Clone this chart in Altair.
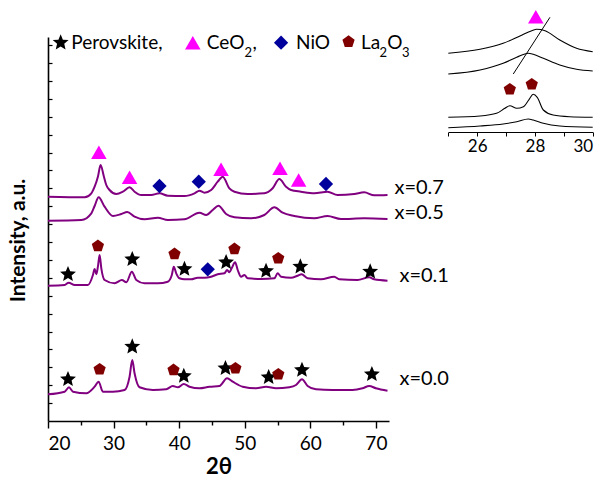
import altair as alt
import pandas as pd

# ---------------- main XRD patterns (2theta, intensity a.u.) ----------------
t07 = [20.0, 25.59, 26.61, 27.11, 27.61, 28.02, 28.53, 28.89, 29.39, 30.41, 31.42, 32.44, 33.20, 34.22,
       35.74, 37.0, 38.27, 40.81, 42.34, 43.10, 43.86, 44.88, 45.88, 46.64, 47.66, 48.43, 50.45, 52.99,
       54.26, 55.28, 56.30, 57.06, 58.58, 60.61, 62.63, 64.15, 66.70, 68.22, 69.74, 71.77]
i07 = [224.3, 223.7, 227.7, 234.3, 244.3, 256.0, 244.3, 236.0, 231.0, 227.0, 229.3, 233.7, 229.3, 226.0,
       226.0, 227.7, 225.3, 225.0, 227.7, 230.3, 228.3, 231.0, 239.3, 244.3, 232.7, 229.3, 227.0, 227.7,
       232.7, 242.0, 234.3, 231.0, 229.3, 227.7, 229.3, 226.0, 227.0, 228.7, 225.7, 226.0]

t05 = [20.0, 25.09, 26.61, 27.11, 27.72, 28.63, 29.90, 31.18, 32.09, 33.20, 34.72, 36.75, 38.27, 40.81,
       43.10, 44.12, 45.12, 45.99, 47.16, 48.43, 50.97, 52.99, 54.52, 55.78, 57.56, 60.61, 62.63, 64.67,
       68.22, 71.77]
i05 = [200.3, 201.0, 207.7, 215.0, 223.7, 214.3, 205.0, 207.0, 209.0, 204.3, 201.7, 203.3, 201.0, 201.7,
       208.3, 206.0, 211.0, 215.3, 207.0, 203.7, 202.7, 206.0, 213.7, 208.3, 205.0, 202.7, 205.0, 202.0,
       202.7, 202.0]

t01 = [20.0, 22.54, 23.15, 24.07, 26.09, 26.85, 27.11, 27.37, 27.61, 27.87, 28.13, 28.63, 30.16, 31.27,
       31.94, 32.79, 33.46, 34.72, 36.75, 38.27, 38.88, 39.18, 39.55, 40.05, 40.81, 41.83, 42.84, 43.86,
       44.88, 45.88, 46.90, 47.31, 47.66, 48.01, 48.53, 48.93, 49.45, 49.95, 50.45, 52.49, 54.52, 55.02,
       55.54, 57.06, 58.06, 58.67, 59.59, 61.63, 63.65, 64.41, 67.20, 68.98, 69.74, 71.77]
i01 = [135.3, 136.0, 138.3, 136.0, 136.0, 146.0, 152.0, 146.7, 154.3, 166.0, 152.7, 141.0, 137.7, 141.0,
       138.7, 149.3, 141.0, 137.7, 137.7, 139.3, 146.0, 154.3, 147.7, 142.7, 141.7, 141.7, 143.3, 143.3,
       144.3, 146.7, 147.7, 151.0, 148.7, 152.7, 158.7, 151.0, 144.3, 146.0, 142.7, 142.0, 142.7, 147.7,
       144.3, 143.3, 145.3, 146.7, 142.7, 141.7, 144.3, 141.7, 141.0, 143.7, 141.7, 140.3]

t00 = [20.0, 22.54, 23.20, 23.81, 25.85, 27.11, 27.72, 28.37, 29.90, 31.68, 32.44, 32.85, 33.20, 33.96,
       35.99, 38.03, 39.03, 39.79, 40.71, 41.57, 43.10, 44.62, 46.14, 47.31, 48.17, 49.69, 51.73, 53.25,
       54.78, 56.80, 57.82, 58.73, 59.59, 60.86, 63.39, 66.44, 67.96, 68.98, 70.0, 71.77]
i00 = [26.7, 29.3, 33.7, 29.3, 27.7, 34.3, 39.3, 29.3, 29.3, 31.0, 44.3, 61.0, 47.7, 33.7,
       31.0, 31.7, 35.0, 33.7, 37.0, 34.3, 32.7, 34.3, 35.0, 42.7, 39.3, 34.3, 32.7, 34.3,
       32.7, 33.7, 36.0, 41.7, 35.0, 31.7, 31.0, 31.0, 32.7, 35.0, 32.7, 30.3]

# ---------------- phase markers ----------------
phases = ["Perovskite", "CeO2", "NiO", "La2O3"]
mk_phase = (["CeO2"] * 5 + ["NiO"] * 3 +
            ["Perovskite"] * 7 + ["La2O3"] * 4 + ["NiO"] +
            ["Perovskite"] * 7 + ["La2O3"] * 4)
mk_theta = [27.76, 32.44, 46.39, 55.38, 58.22, 37.0, 42.99, 62.39,
            23.05, 32.85, 40.81, 47.16, 53.25, 58.48, 69.13, 27.61, 39.29, 48.43, 55.11, 44.36,
            23.05, 32.85, 40.71, 47.06, 53.65, 58.73, 69.39, 27.87, 39.14, 48.58, 55.12]
mk_int = [268.7, 243.7, 251.7, 252.7, 241.0, 235.0, 239.3, 237.0,
          146.7, 161.7, 152.0, 158.7, 150.0, 154.3, 149.3, 175.0, 167.0, 172.0, 162.7, 151.7,
          41.7, 74.3, 45.0, 52.7, 43.7, 51.0, 46.7, 51.7, 51.0, 52.7, 46.7]

# legend
lg_phase = ["Perovskite", "CeO2", "NiO", "La2O3"]
lg_theta = [21.93, 42.08, 55.54, 65.83]
lg_int = [378.3, 378.3, 378.3, 379.3]
lg_text = ["Perovskite,", "CeO", ",", "NiO", "La", "O"]
lg_text_theta = [23.56, 44.21, 51.2, 57.82, 67.72, 71.75]
lg_text_int = [378.3, 378.3, 378.3, 378.3, 378.3, 378.3]
lg_sub = ["2", "2", "3"]
lg_sub_theta = [49.95, 70.55, 74.0]
lg_sub_int = [368.3, 368.3, 368.3]

# sample labels
lab_text = ["x=0.7", "x=0.5", "x=0.1", "x=0.0"]
lab_theta = [72.83, 72.83, 73.59, 73.59]
lab_int = [232.7, 207.7, 145.0, 42.0]

# ---------------- inset (25-30 deg) ----------------
it07 = [25.0, 26.1, 26.9, 27.48, 27.89, 28.06, 28.35, 28.86, 29.44, 30.0]
ii07 = [367.7, 371.7, 377.7, 385.0, 390.3, 391.7, 390.3, 381.0, 372.7, 369.3]
it05 = [25.0, 26.1, 26.9, 27.37, 27.77, 27.94, 28.29, 28.86, 29.44, 30.0]
ii05 = [347.0, 351.0, 357.7, 363.7, 367.7, 366.7, 362.7, 356.0, 351.7, 350.0]
it01 = [25.0, 26.1, 26.67, 26.96, 27.13, 27.37, 27.6, 27.8, 27.94, 28.08, 28.29, 28.63, 29.2, 30.0]
ii01 = [303.7, 305.0, 307.7, 312.7, 315.3, 312.7, 314.3, 321.7, 326.7, 323.7, 311.0, 306.0, 304.3, 303.7]
it00 = [25.0, 26.1, 26.9, 27.37, 27.77, 27.94, 28.29, 28.86, 30.0]
ii00 = [293.3, 295.0, 297.0, 299.3, 302.0, 301.0, 297.7, 295.0, 293.7]
shift_theta = [27.25, 28.52]
shift_int = [347.0, 403.7]
imk_phase = ["CeO2", "La2O3", "La2O3"]
imk_theta = [28.03, 27.13, 27.89]
imk_int = [404.3, 331.7, 336.7]

# ---------------- build tables ----------------
def curves_df(items):
    rows = []
    for name, xs, ys in items:
        for a, b in zip(xs, ys):
            rows.append({"theta": a, "intensity": b, "sample": name})
    return pd.DataFrame(rows)

main_df = curves_df([("x=0.7", t07, i07), ("x=0.5", t05, i05), ("x=0.1", t01, i01), ("x=0.0", t00, i00)])
inset_df = curves_df([("x=0.7", it07, ii07), ("x=0.5", it05, ii05), ("x=0.1", it01, ii01), ("x=0.0", it00, ii00)])
mk_df = pd.DataFrame({"theta": mk_theta, "intensity": mk_int, "phase": mk_phase})
lg_df = pd.DataFrame({"theta": lg_theta, "intensity": lg_int, "phase": lg_phase})
lgt_df = pd.DataFrame({"theta": lg_text_theta, "intensity": lg_text_int, "t": lg_text})
lgs_df = pd.DataFrame({"theta": lg_sub_theta, "intensity": lg_sub_int, "t": lg_sub})
lab_df = pd.DataFrame({"theta": lab_theta, "intensity": lab_int, "t": lab_text})
shift_df = pd.DataFrame({"theta": shift_theta, "intensity": shift_int})
imk_df = pd.DataFrame({"theta": imk_theta, "intensity": imk_int, "phase": imk_phase})

W, H = 341, 384
FONT = "Lato"
STAR = ("M0,-1L0.265,-0.364L0.951,-0.309L0.428,0.139L0.588,0.809L0,0.45"
        "L-0.588,0.809L-0.428,0.139L-0.951,-0.309L-0.265,-0.364Z")
PENTAGON = "M0,-1L0.951,-0.309L0.588,0.809L-0.588,0.809L-0.951,-0.309Z"
DIAMOND = "M0,-1L1,0L0,1L-1,0Z"

x_main = alt.Scale(domain=[20, 72], nice=False, zero=False)
y_main = alt.Scale(domain=[0, 384], nice=False, zero=False)
x_inset = alt.Scale(domain=[25, 30], range=[400.3, 544.7], nice=False, zero=False)

shape_enc = alt.Shape("phase:N", scale=alt.Scale(domain=phases, range=[STAR, "triangle-up", DIAMOND, PENTAGON]), legend=None)
color_enc = alt.Color("phase:N", scale=alt.Scale(domain=phases, range=["#000000", "#FF00FF", "#00009C", "#800000"]), legend=None)
size_enc = alt.Size("phase:N", scale=alt.Scale(domain=phases, range=[280, 165, 580, 190]), legend=None)

x_axis_major = alt.Axis(values=[20, 30, 40, 50, 60, 70], title="2θ", tickSize=7, labelFontSize=19,
                        labelPadding=6, titleFontSize=22, titleFontWeight="bold", titlePadding=3,
                        domainWidth=1.6, tickWidth=1.4, grid=False, orient="bottom")
y_axis_main = alt.Axis(title="Intensity, a.u.", ticks=False, labels=False, domainWidth=1.6,
                       titleFontSize=21, titleFontWeight="bold", titlePadding=20, titleY=203,
                       grid=False, orient="left")

X = alt.X("theta:Q", scale=x_main, axis=x_axis_major)
Y = alt.Y("intensity:Q", scale=y_main, axis=y_axis_main)

curves = alt.Chart(main_df).mark_line(color="#800080", strokeWidth=2, interpolate="monotone").encode(
    x=X, y=Y, detail="sample:N")
markers = alt.Chart(mk_df).mark_point(filled=True, opacity=1).encode(
    x=X, y=Y, shape=shape_enc, color=color_enc, size=size_enc)
legend_pts = alt.Chart(lg_df).mark_point(filled=True, opacity=1).encode(
    x=X, y=Y, shape=shape_enc, color=color_enc, size=size_enc)
legend_txt = alt.Chart(lgt_df).mark_text(align="left", baseline="middle", font=FONT, fontSize=19, color="black").encode(
    x=X, y=Y, text="t:N")
legend_sub = alt.Chart(lgs_df).mark_text(align="left", baseline="middle", font=FONT, fontSize=13, color="black").encode(
    x=X, y=Y, text="t:N")
main = alt.layer(curves, markers, legend_pts, legend_txt, legend_sub)

minor_axis = alt.Axis(values=[25, 35, 45, 55, 65], labels=False, domain=False, tickSize=4, tickWidth=1.4,
                      title=None, grid=False, orient="bottom")
labels = alt.Chart(lab_df).mark_text(align="left", baseline="middle", font=FONT, fontSize=20, color="black").encode(
    x=alt.X("theta:Q", scale=x_main, axis=minor_axis),
    y=alt.Y("intensity:Q", scale=y_main, axis=None),
    text="t:N")

inset_x_axis = alt.Axis(values=[25, 26, 27, 28, 29, 30], labelExpr="datum.value % 2 == 0 ? datum.label : ''",
                        tickSize=4, labelFontSize=17, labelPadding=2, domainWidth=1, tickWidth=1,
                        title=None, grid=False, orient="bottom", offset=-289)
y_ticks_axis = alt.Axis(values=[round(17.9 * k, 1) for k in range(1, 22)], labels=False, domain=False,
                        tickSize=4, tickWidth=1.2, title=None, grid=False, orient="right", offset=-W)
IX = alt.X("theta:Q", scale=x_inset, axis=inset_x_axis)
IY = alt.Y("intensity:Q", scale=y_main, axis=y_ticks_axis)

inset_curves = alt.Chart(inset_df).mark_line(color="black", strokeWidth=1.1, interpolate="monotone").encode(
    x=IX, y=IY, detail="sample:N")
inset_shift = alt.Chart(shift_df).mark_line(color="black", strokeWidth=1).encode(x=IX, y=IY)
inset_markers = alt.Chart(imk_df).mark_point(filled=True, opacity=1).encode(
    x=IX, y=IY, shape=shape_enc, color=color_enc, size=size_enc)
inset = alt.layer(inset_curves, inset_shift, inset_markers)

chart = alt.layer(main, labels, inset).resolve_scale(x="independent").resolve_axis(
    x="independent", y="independent"
).properties(
    width=W, height=H,
    autosize=alt.AutoSizeParams(type="none"),
    padding={"left": 48, "top": 37, "right": 213, "bottom": 58},
    background="white",
).configure_view(stroke=None).configure_axis(
    labelFont=FONT, titleFont=FONT, domainColor="black", tickColor="black",
    labelColor="black", titleColor="black"
)

chart.save("out.html", embed_options={"renderer": "svg", "actions": False})
